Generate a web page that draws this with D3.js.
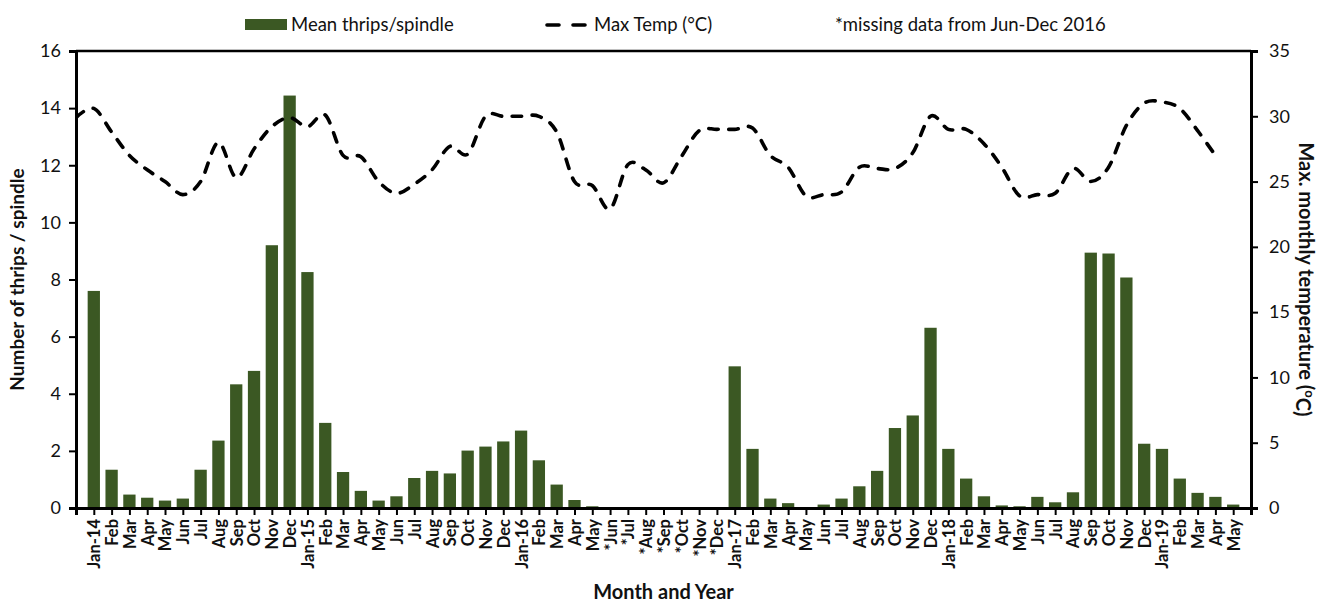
<!DOCTYPE html>
<html>
<head>
<meta charset="utf-8">
<script src="https://cdn.jsdelivr.net/npm/d3@7"></script>
<style>
  body { margin: 0; background: #fff; }
  svg text { font-family: Lato, "Open Sans", sans-serif; fill: #111; }
</style>
</head>
<body>
<div id="chart"></div>
<script>
// months shown on the category axis (Jan-14 .. May-19)
var months = [
  "Jan-14","Feb","Mar","Apr","May","Jun","Jul","Aug","Sep","Oct","Nov","Dec",
  "Jan-15","Feb","Mar","Apr","May","Jun","Jul","Aug","Sep","Oct","Nov","Dec",
  "Jan-16","Feb","Mar","Apr","May","*Jun","*Jul","*Aug","*Sep","*Oct","*Nov","*Dec",
  "Jan-17","Feb","Mar","Apr","May","Jun","Jul","Aug","Sep","Oct","Nov","Dec",
  "Jan-18","Feb","Mar","Apr","May","Jun","Jul","Aug","Sep","Oct","Nov","Dec",
  "Jan-19","Feb","Mar","Apr","May"
];

// mean thrips per spindle, one per month
var thrips = [
  7.6, 1.34, 0.47, 0.36, 0.26, 0.33, 1.34, 2.36, 4.33, 4.8, 9.2, 14.44,
  8.26, 2.98, 1.26, 0.6, 0.26, 0.41, 1.05, 1.3, 1.21, 2.01, 2.15, 2.33,
  2.71, 1.67, 0.82, 0.28, 0.06, 0, 0, 0, 0, 0, 0, 0,
  4.96, 2.07, 0.33, 0.17, 0.02, 0.12, 0.33, 0.76, 1.3, 2.8, 3.24, 6.31,
  2.07, 1.03, 0.41, 0.09, 0.06, 0.39, 0.2, 0.55, 8.94, 8.91, 8.07, 2.25,
  2.07, 1.03, 0.53, 0.39, 0.12
];

// max monthly temperature; the series starts one month early (Dec-13) and ends at Apr-19
var tempStart = -1;
var temp = [
  29.9,
  30.6, 28.8, 27.0, 25.9, 25.0, 24.0, 25.0, 28.0, 25.3, 27.5, 29.2, 29.9,
  29.2, 30.1, 27.0, 26.9, 25.0, 24.1, 24.8, 25.9, 27.7, 27.1, 30.0, 30.0,
  30.0, 30.0, 28.8, 25.0, 24.7, 22.9, 26.3, 25.9, 24.9, 26.9, 28.9, 29.0,
  29.0, 29.1, 27.0, 26.1, 23.9, 24.0, 24.2, 26.1, 26.0, 26.0, 27.2, 30.0,
  29.0, 29.0, 27.9, 26.1, 23.9, 24.0, 24.1, 26.0, 25.0, 26.1, 29.3, 31.0,
  31.1, 30.6, 28.9, 27.0
];

var leftTicks = [0, 2, 4, 6, 8, 10, 12, 14, 16];
var rightTicks = [0, 5, 10, 15, 20, 25, 30, 35];

function drawChart() {
  var width = 1326, height = 602;
  var plotLeft = 76, plotRight = 1251, plotTop = 51, plotBottom = 508;
  var barColor = "#3b5823";

  var svg = d3.select("#chart").append("svg")
    .attr("width", width)
    .attr("height", height);

  var x = d3.scaleLinear().domain([-1, months.length]).range([plotLeft, plotRight]);
  var step = x(1) - x(0);
  var barW = step * 0.69;
  var y = d3.scaleLinear().domain([0, 16]).range([plotBottom, plotTop]);
  var y2 = d3.scaleLinear().domain([0, 35]).range([plotBottom, plotTop]);

  // bars
  svg.selectAll(".bar")
    .data(thrips)
    .enter()
    .append("rect")
    .attr("class", "bar")
    .attr("x", function(d, i) { return x(i) - barW / 2; })
    .attr("y", function(d) { return y(d); })
    .attr("width", barW)
    .attr("height", function(d) { return plotBottom - y(d); })
    .attr("fill", barColor);

  // temperature line
  var line = d3.line()
    .x(function(d, i) { return x(tempStart + i); })
    .y(function(d) { return y2(d); })
    .curve(d3.curveCatmullRom.alpha(0));

  svg.append("clipPath").attr("id", "plotclip")
    .append("rect")
    .attr("x", plotLeft).attr("y", plotTop)
    .attr("width", plotRight - plotLeft).attr("height", plotBottom - plotTop);

  svg.append("path")
    .datum(temp)
    .attr("clip-path", "url(#plotclip)")
    .attr("d", line)
    .attr("fill", "none")
    .attr("stroke", "#000")
    .attr("stroke-width", 3.6)
    .attr("stroke-linecap", "round")
    .attr("stroke-dasharray", "9.5,10.5");

  // frame top
  svg.append("line")
    .attr("x1", plotLeft).attr("x2", plotRight)
    .attr("y1", plotTop).attr("y2", plotTop)
    .attr("stroke", "#000").attr("stroke-width", 2.5);

  // left axis
  var yAxis = svg.append("g")
    .attr("transform", "translate(" + plotLeft + ",0)")
    .call(d3.axisLeft(y).tickValues(leftTicks).tickSize(7).tickPadding(8));
  yAxis.selectAll("text").style("font-size", "18px");

  // right axis
  var y2Axis = svg.append("g")
    .attr("transform", "translate(" + plotRight + ",0)")
    .call(d3.axisRight(y2).tickValues(rightTicks).tickSize(7).tickPadding(11));
  y2Axis.selectAll("text").style("font-size", "18px");

  // bottom axis
  var xAxis = svg.append("g")
    .attr("transform", "translate(0," + plotBottom + ")")
    .call(d3.axisBottom(x)
      .tickValues(d3.range(-1, months.length + 1))
      .tickFormat(function(i) { return months[i] || ""; })
      .tickSize(7));
  xAxis.selectAll("text")
    .attr("transform", "rotate(-90)")
    .attr("text-anchor", "end")
    .attr("x", -11)
    .attr("y", 0)
    .attr("dy", "0.36em")
    .style("font-size", "16.5px")
    .style("font-weight", "bold");

  [yAxis, y2Axis, xAxis].forEach(function(g) {
    g.select(".domain").attr("stroke", "#000").attr("stroke-width", 3);
    g.selectAll(".tick line").attr("stroke", "#000").attr("stroke-width", 2);
  });

  // axis titles
  svg.append("text")
    .attr("transform", "translate(24," + (plotTop + plotBottom) / 2 + ") rotate(-90)")
    .attr("text-anchor", "middle")
    .style("font-size", "19px").style("font-weight", "bold")
    .text("Number of thrips / spindle");

  var rt = svg.append("text")
    .attr("transform", "translate(1299," + (plotTop + plotBottom) / 2 + ") rotate(90)")
    .attr("text-anchor", "middle")
    .style("font-size", "20px").style("font-weight", "bold");
  rt.append("tspan").text("Max. monthly temperature (");
  rt.append("tspan").attr("dy", "-0.45em").style("font-size", "13px").text("o");
  rt.append("tspan").attr("dy", "0.45em").text("C)");

  svg.append("text")
    .attr("x", (plotLeft + plotRight) / 2)
    .attr("y", 599)
    .attr("text-anchor", "middle")
    .style("font-size", "20px").style("font-weight", "bold")
    .text("Month and Year");

  // legend
  svg.append("rect")
    .attr("x", 245).attr("y", 19).attr("width", 42).attr("height", 11)
    .attr("fill", barColor);
  svg.append("text").attr("x", 291).attr("y", 31)
    .style("font-size", "18.5px").text("Mean thrips/spindle");

  svg.append("line")
    .attr("x1", 547).attr("x2", 587).attr("y1", 25).attr("y2", 25)
    .attr("stroke", "#000").attr("stroke-width", 3.6)
    .attr("stroke-linecap", "round").attr("stroke-dasharray", "12,14");
  svg.append("text").attr("x", 594).attr("y", 31)
    .style("font-size", "18.5px").text("Max Temp (°C)");

  svg.append("text").attr("x", 835).attr("y", 31)
    .style("font-size", "18.5px").text("*missing data from Jun-Dec 2016");
}

drawChart();
</script>
</body>
</html>
